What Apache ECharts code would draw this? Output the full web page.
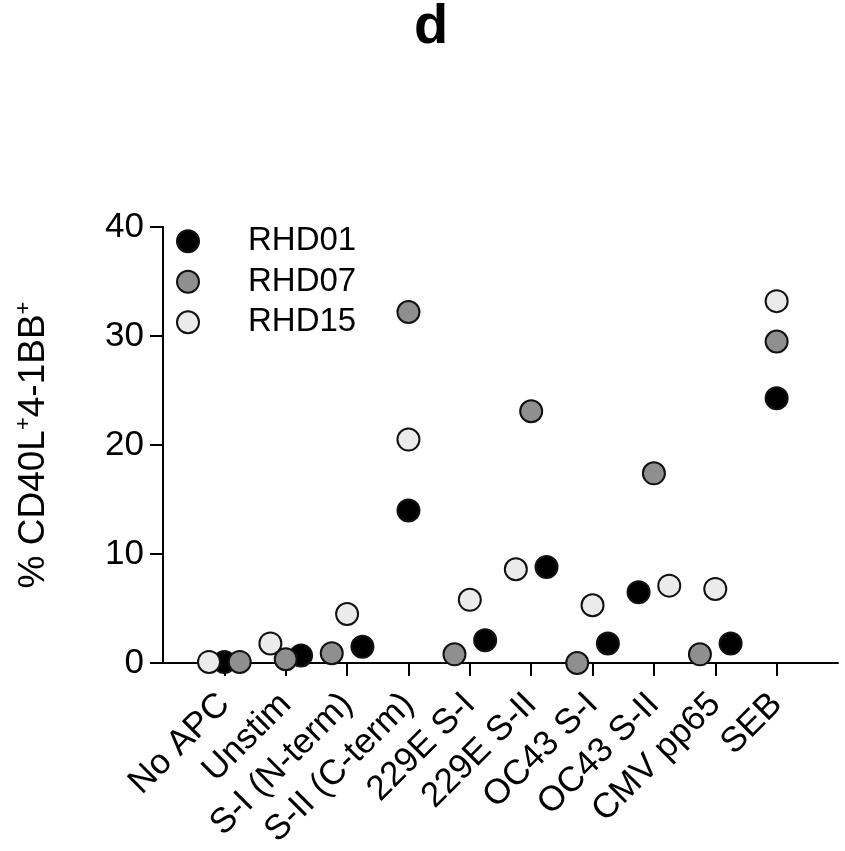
<!DOCTYPE html>
<html>
<head>
<meta charset="utf-8">
<title>CD40L+4-1BB+</title>
<script src="https://cdn.jsdelivr.net/npm/echarts@6/dist/echarts.min.js"></script>
<style>
  html, body { margin: 0; padding: 0; background: #fff; }
  #chart { width: 845px; height: 851px; }
</style>
</head>
<body>
<div id="chart"></div>
<script>
// categories on the x axis
const categories = ['No APC', 'Unstim', 'S-I (N-term)', 'S-II (C-term)', '229E S-I',
  '229E S-II', 'OC43 S-I', 'OC43 S-II', 'CMV pp65', 'SEB']

// % CD40L+4-1BB+ per donor
const rhd01 = [0.1, 0.7, 1.5, 14.0, 2.1, 8.8, 1.8, 6.5, 1.8, 24.3]
const rhd07 = [0.1, 0.35, 0.9, 32.2, 0.8, 23.1, 0.0, 17.4, 0.8, 29.5]
const rhd15 = [0.1, 1.8, 4.5, 20.5, 5.8, 8.6, 5.3, 7.1, 6.8, 33.2]

// horizontal spread slot of each point inside its column (-1 left, 0 centre, 1 right)
const rhd01Slot = [0, 1, 1, 0, 1, 1, 1, -1, 1, 0]
const rhd07Slot = [1, 0, -1, 0, -1, 0, -1, 0, -1, 0]
const rhd15Slot = [-1, -1, 0, 0, 0, -1, 0, 1, 0, 0]

const yTicks = [0, 10, 20, 30, 40]

const spread = 0.25
const font = 'Liberation Sans, Arial, sans-serif'

const toPoints = (values, slots) => values.map((v, i) => [i + slots[i] * spread, v])

const donorSeries = (name, values, slots, color) => ({
  name: name,
  type: 'scatter',
  data: toPoints(values, slots),
  symbol: 'circle',
  symbolSize: 22,
  clip: false,
  itemStyle: {
    color: color,
    borderColor: '#111',
    borderWidth: 2,
    opacity: 1
  },
  emphasis: { disabled: true }
})

const chart = echarts.init(document.getElementById('chart'))

chart.setOption({
  backgroundColor: '#fff',
  animation: false,
  title: {
    text: 'd',
    left: 414,
    top: 0,
    padding: 0,
    textStyle: { fontFamily: font, fontSize: 56, fontWeight: 'bold', color: '#000' }
  },
  legend: {
    orient: 'vertical',
    left: 176,
    top: 221,
    padding: 0,
    itemWidth: 22,
    itemHeight: 22,
    itemGap: 0,
    icon: 'circle',
    textStyle: {
      fontFamily: font,
      fontSize: 33,
      color: '#000',
      lineHeight: 40.5,
      padding: [0, 0, 0, 44]
    },
    data: ['RHD01', 'RHD07', 'RHD15']
  },
  grid: {
    left: 163,
    right: 7,
    top: 227,
    bottom: 184,
    containLabel: false
  },
  xAxis: {
    type: 'value',
    min: -1,
    max: 10,
    splitLine: { show: false },
    axisLine: { show: true, onZero: false, lineStyle: { color: '#000', width: 2 } },
    axisTick: {
      show: true,
      customValues: categories.map((c, i) => i),
      length: 13,
      lineStyle: { color: '#000', width: 2 }
    },
    axisLabel: {
      customValues: categories.map((c, i) => i),
      formatter: v => categories[Math.round(v)] || '',
      rotate: 45,
      margin: 36,
      fontFamily: font,
      fontSize: 35,
      color: '#000'
    }
  },
  yAxis: {
    type: 'value',
    min: 0,
    max: 40,
    interval: 10,
    splitLine: { show: false },
    axisLine: { show: true, onZero: false, lineStyle: { color: '#000', width: 2 } },
    axisTick: { show: true, length: 13, lineStyle: { color: '#000', width: 2 } },
    axisLabel: {
      margin: 19,
      fontFamily: font,
      fontSize: 35,
      color: '#000',
      formatter: v => (yTicks.includes(v) ? String(v) : '')
    },
    name: '{t|% CD40L}{s|+}{t|4-1BB}{s|+}',
    nameLocation: 'middle',
    nameRotate: 90,
    nameGap: 108,
    nameTextStyle: {
      rich: {
        t: { fontFamily: font, fontSize: 37, color: '#000', lineHeight: 42 },
        s: { fontFamily: font, fontSize: 22, color: '#000', lineHeight: 42, verticalAlign: 'top', padding: [0, 0, 16, 0] }
      }
    }
  },
  series: [
    donorSeries('RHD01', rhd01, rhd01Slot, '#000000'),
    donorSeries('RHD07', rhd07, rhd07Slot, '#8f8f8f'),
    donorSeries('RHD15', rhd15, rhd15Slot, '#ebebeb')
  ]
})
</script>
</body>
</html>
